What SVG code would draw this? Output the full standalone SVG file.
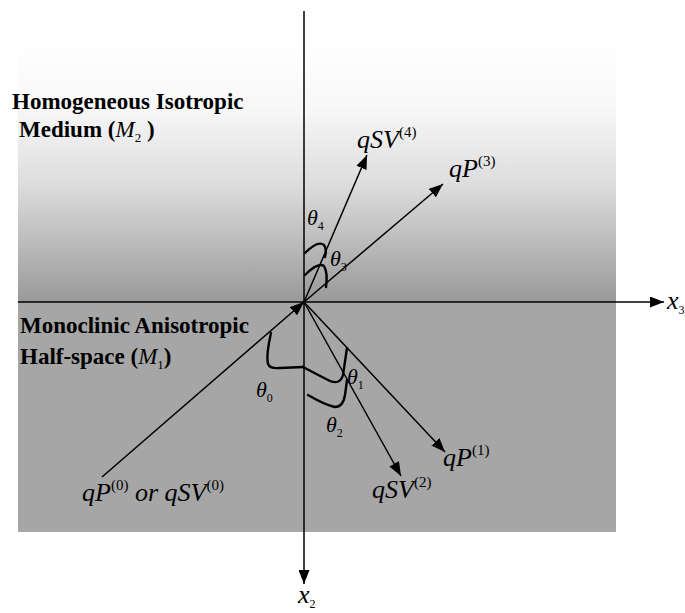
<svg xmlns="http://www.w3.org/2000/svg" width="685" height="613" viewBox="0 0 685 613">
<style>
.bold{font-family:"Liberation Serif","Times New Roman",serif;font-weight:bold;font-size:23px;fill:#000}
.it{font-family:"Liberation Serif","Times New Roman",serif;font-style:italic;font-size:26px;fill:#000}
.th{font-family:"Liberation Serif","Times New Roman",serif;font-style:italic;font-size:22px;fill:#000}
.sup{font-style:normal;font-size:15px}
.sub{font-style:normal;font-size:12px}
.ln{stroke:#000;stroke-width:1.5;fill:none}
.br{stroke:#000;stroke-width:2.4;fill:none;stroke-linecap:round;stroke-linejoin:round}
</style>
<defs>
<linearGradient id="gUp" x1="0" y1="40" x2="0" y2="302" gradientUnits="userSpaceOnUse">
<stop offset="0" stop-color="#ffffff"/>
<stop offset="0.25" stop-color="#f8f8f8"/>
<stop offset="0.55" stop-color="#dddddd"/>
<stop offset="1" stop-color="#999999"/>
</linearGradient>
<marker id="ah" markerWidth="14" markerHeight="11" refX="14" refY="5.5" orient="auto" markerUnits="userSpaceOnUse">
<path d="M0,0 L14,5.5 L0,11 z" fill="#000"/>
</marker>
</defs>
<rect width="685" height="613" fill="#fff"/>
<g id="medium-M2">
<rect x="18" y="40" width="598" height="262" fill="url(#gUp)"/>
<text class="bold" x="12" y="109">Homogeneous Isotropic</text>
<text class="bold" x="19" y="137">Medium (<tspan font-style="italic" font-weight="normal">M</tspan><tspan font-weight="normal" font-size="13" dy="5">2</tspan><tspan dy="-5"> )</tspan></text>
</g>
<g id="halfspace-M1">
<rect x="18" y="302" width="598" height="230" fill="#a6a6a6"/>
<text class="bold" x="20" y="333">Monoclinic Anisotropic</text>
<text class="bold" x="20" y="364">Half-space (<tspan font-style="italic" font-weight="normal">M</tspan><tspan font-weight="normal" font-size="13" dy="5">1</tspan><tspan dy="-5">)</tspan></text>
</g>
<g id="connectors">
<line class="ln" x1="304" y1="11" x2="304" y2="584" marker-end="url(#ah)"/>
<line class="ln" x1="18" y1="302" x2="664" y2="302" marker-end="url(#ah)"/>
<line class="ln" x1="102" y1="477" x2="304" y2="302" marker-end="url(#ah)"/>
<line class="ln" x1="304" y1="302" x2="367" y2="155" marker-end="url(#ah)"/>
<line class="ln" x1="304" y1="302" x2="443" y2="184" marker-end="url(#ah)"/>
<line class="ln" x1="304" y1="302" x2="445" y2="452" marker-end="url(#ah)"/>
<line class="ln" x1="304" y1="302" x2="401" y2="476" marker-end="url(#ah)"/>
</g>
<g id="angles">
<path class="br" d="M305,253 Q318,240 324,245 Q327,249 325,257"/>
<path class="br" d="M305,275 Q318,262 324,266 Q328,273 326,287"/>
<path class="br" d="M271,333 Q266,355 268,364 Q270,369 280,368 L303,367"/>
<path class="br" d="M303,367 Q320,376 330,381 Q340,385 343,375 L347,348"/>
<path class="br" d="M308,395 Q325,405 335,407 Q343,407 345,395 L347,380"/>
<text class="th" x="307" y="225">θ<tspan class="sub" dy="5">4</tspan></text>
<text class="th" x="330" y="266">θ<tspan class="sub" dy="5">3</tspan></text>
<text class="th" x="256" y="397">θ<tspan class="sub" dy="5">0</tspan></text>
<text class="th" x="347" y="384">θ<tspan class="sub" dy="5">1</tspan></text>
<text class="th" x="326" y="432">θ<tspan class="sub" dy="5">2</tspan></text>
</g>
<g id="labels">
<text class="it" x="357" y="148">qSV<tspan class="sup" dy="-11">(4)</tspan></text>
<text class="it" x="449" y="177">qP<tspan class="sup" dy="-11">(3)</tspan></text>
<text class="it" x="443" y="466">qP<tspan class="sup" dy="-11">(1)</tspan></text>
<text class="it" x="372" y="498">qSV<tspan class="sup" dy="-11">(2)</tspan></text>
<text class="it" x="82" y="501">qP<tspan class="sup" dy="-11">(0)</tspan><tspan dy="11"> or qSV</tspan><tspan class="sup" dy="-11">(0)</tspan></text>
<text class="it" x="667" y="309">x<tspan class="sub" font-size="14" dy="5">3</tspan></text>
<text class="it" x="298" y="603">x<tspan class="sub" font-size="14" dy="5">2</tspan></text>
</g>
</svg>
